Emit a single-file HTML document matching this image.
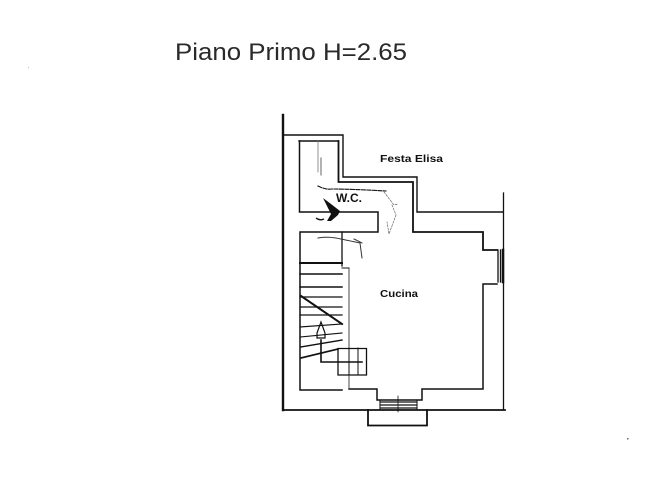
<!DOCTYPE html>
<html>
<head>
<meta charset="utf-8">
<style>
html,body{margin:0;padding:0;background:#fff;width:649px;height:487px;overflow:hidden}
svg{display:block;filter:blur(0.35px)}
text{font-family:"Liberation Sans",sans-serif;fill:#111}
</style>
</head>
<body>
<svg width="649" height="487" viewBox="0 0 649 487" xmlns="http://www.w3.org/2000/svg">
<text x="175" y="60" font-size="24" style="fill:#2a2a2a" textLength="232" lengthAdjust="spacingAndGlyphs">Piano Primo H=2.65</text>
<text x="380" y="162" font-size="10" font-weight="bold" textLength="63" lengthAdjust="spacingAndGlyphs">Festa Elisa</text>
<text x="336" y="202" font-size="12" font-weight="bold" textLength="26" lengthAdjust="spacingAndGlyphs">W.C.</text>
<text x="380" y="297" font-size="10" font-weight="bold" textLength="38" lengthAdjust="spacingAndGlyphs">Cucina</text>

<g fill="none" stroke="#111" stroke-linecap="square">
<!-- outer walls -->
<path d="M283 115V410" stroke-width="2.4"/>
<path d="M283 410H505" stroke-width="1.8"/>
<path d="M503.500 193V410" stroke-width="1.3"/>
<path d="M284 135H343V177H417V212H503" stroke-width="1.4"/>
<path d="M338.500 141V182H413V232H483V250H497" stroke-width="1.8"/>
<path d="M299 141H338" stroke-width="1.4"/>
<path d="M299.500 141V212H378V232H300V390H342" stroke-width="1.5"/>
<path d="M349 389H377V400H422V389H483V284H497" stroke-width="1.5"/>
<path d="M368 410V425.500H427V410" stroke-width="1.8"/>
<!-- window right -->
<path d="M498 250V282M500.500 250V282" stroke-width="1.3"/>
<path d="M503 250V282" stroke-width="2.5"/>
<!-- window bottom -->
<path d="M380 402H417M380 405H417M380 408H417" stroke-width="1.2"/>
<path d="M380 401V410M417 401V410" stroke-width="1"/>
<path d="M398 396V412" stroke-width="0.8"/>
<!-- inner partitions -->
<path d="M342 232V266" stroke-width="1.3"/>
<path d="M349 268V389" stroke-width="0.9" stroke="#333"/>
<path d="M342 268H349" stroke-width="1"/>
<path d="M318 141V172" stroke-width="0.8" stroke="#777"/>
<path d="M321 158V175" stroke-width="1" stroke="#666"/>
<!-- stairs -->
<path d="M300 263H342" stroke-width="2"/>
<path d="M300 274H342" stroke-width="1.5"/>
<path d="M300 287H342" stroke-width="1.5"/>
<path d="M300 297H342" stroke-width="1.2"/>
<path d="M300 307H342" stroke-width="1.2"/>
<path d="M300 315H342" stroke-width="1.3"/>
<path d="M300 327L342 324" stroke-width="1.2"/>
<path d="M300 337L342 333" stroke-width="1.1"/>
<path d="M301 347L342 340" stroke-width="1.4"/>
<path d="M301 358L338 349" stroke-width="1.7"/>
<path d="M301 296L342 324" stroke-width="2"/>
<!-- stair arrow -->
<path d="M321 340V362H362" stroke-width="1.6"/>
<path d="M321 322L317 333V338H325V333Z" stroke-width="1.2"/>
<!-- stair landing box -->
<path d="M338 348.500H366.500V375H338Z" stroke-width="1.3"/>
<path d="M349 348V375M358 348V375" stroke-width="1" stroke-dasharray="2 1"/>
<!-- door sketches -->
<path d="M318 186Q326 190 332 189Q350 189 386 191" stroke-width="1.1" stroke-dasharray="4 1.500"/>
<path d="M384 192L394 205L398 204M392 205L396 215L389 234L387 222" stroke-width="0.7" stroke="#666" stroke-dasharray="2 1.500"/>
<path d="M318 238Q328 236 341 239L360 243L362 258M354 239L362 243" stroke-width="1" stroke="#333" stroke-dasharray="5 1"/>
</g>
<!-- W.C. arrow blob -->
<path d="M323 198L331 204L340 211L338 215L331 221L327 221L331 214Z" fill="#111"/>
<path d="M316 218Q320 221 324 219" fill="none" stroke="#111" stroke-width="1.4"/>
<!-- specks -->
<rect x="627" y="438" width="1.500" height="1.500" fill="#666"/>
<rect x="28" y="67" width="1" height="1" fill="#bbb"/>
</svg>
</body>
</html>
